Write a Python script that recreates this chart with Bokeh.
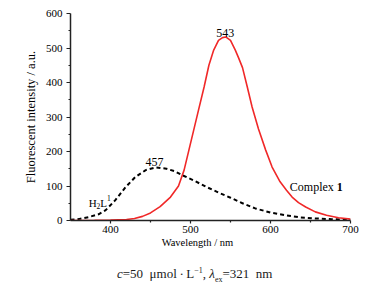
from bokeh.plotting import figure
from bokeh.models import Range1d, FixedTicker, Label, ColumnDataSource, Div
from bokeh.layouts import column
from bokeh.embed import file_html
from bokeh.resources import INLINE

# ---- data ----
complex1_wl = [350, 380, 400, 420, 430, 440, 450, 462, 475, 485, 492, 498, 504, 510, 517,
               523, 529, 535, 540, 544, 550, 556, 560, 565, 571, 577, 585, 594, 602, 612,
               620, 627, 635, 644, 656, 670, 685, 700]
complex1_int = [0, 0.5, 1, 3, 6, 12, 22, 40, 68, 100, 146, 204, 262, 320, 387,
                450, 494, 522, 530, 532, 522, 494, 472, 443, 387, 329, 265, 204, 155, 112,
                88, 68, 52, 39, 25, 15, 8, 4]

h2l1_wl = [350, 360, 373, 385, 394, 406, 419, 431, 444, 457, 470, 480, 490, 505, 520,
           535, 550, 565, 581, 600, 619, 637, 656, 675, 700]
h2l1_int = [2, 4, 10, 18, 30, 59, 97, 126, 146, 154, 150, 143, 131, 115, 97,
            81, 66, 50, 35, 23, 15, 9, 6, 4, 2]

x_major = [400, 500, 600, 700]
x_minor = [450, 550, 650]
y_major = [0, 100, 200, 300, 400, 500, 600]
y_minor = [50, 150, 250, 350, 450, 550]

X0, X1, Y0, Y1 = 350, 700, 0, 600
FL, FT, FW, FH = 70, 13, 280, 207
SERIF = "Liberation Serif"
AXFONT = "'Liberation Serif', 'Times New Roman', serif"

p = figure(frame_width=FW, frame_height=FH, min_border_left=FL, min_border_right=30,
           min_border_top=FT, min_border_bottom=35,
           x_range=Range1d(X0, X1), y_range=Range1d(Y0, Y1),
           output_backend="svg", toolbar_location=None,
           background_fill_color="white", border_fill_color="white")
p.outline_line_color = None
p.grid.visible = False

for axes in (p.xaxis, p.yaxis):
    axes.axis_line_color = "#222222"
    axes.axis_line_width = 1.5
    axes.major_tick_line_color = "#222222"
    axes.minor_tick_line_color = "#222222"
    axes.major_tick_line_width = 1.2
    axes.minor_tick_line_width = 1.2
    axes.major_tick_in = 0
    axes.minor_tick_in = 0
    axes.major_label_text_font = AXFONT
    axes.major_label_text_font_size = "11px"
    axes.major_label_text_color = "black"
    axes.axis_label_text_font = AXFONT
    axes.axis_label_text_font_style = "normal"
    axes.axis_label_text_color = "black"

p.xaxis.ticker = FixedTicker(ticks=x_major, minor_ticks=x_minor)
p.yaxis.ticker = FixedTicker(ticks=y_major, minor_ticks=y_minor)
p.xaxis.major_tick_out = 3
p.xaxis.minor_tick_out = 2
p.yaxis.major_tick_out = 4
p.yaxis.minor_tick_out = 2
p.xaxis.major_label_standoff = 2
p.yaxis.major_label_standoff = 4

p.xaxis.axis_label = "Wavelength / nm" + "\u00a0" * 10
p.xaxis.axis_label_text_font_size = "10.5px"
p.xaxis.axis_label_standoff = 1
p.yaxis.axis_label = "Fluorescent intensity / a.u."
p.yaxis.axis_label_text_font_size = "12.5px"
p.yaxis.axis_label_standoff = 5

src_c = ColumnDataSource(dict(x=complex1_wl, y=complex1_int))
src_h = ColumnDataSource(dict(x=h2l1_wl, y=h2l1_int))
p.line("x", "y", source=src_h, line_color="black", line_width=2, line_dash="4 3")
p.line("x", "y", source=src_c, line_color="#f02828", line_width=1.6)


def dx(px):
    return X0 + (px - FL) * (X1 - X0) / FW


def dy(py):
    return Y0 + (FT + FH - py) * (Y1 - Y0) / FH


def lab(px, py, text, size="12px", style="normal", align="left"):
    p.add_layout(Label(x=dx(px), y=dy(py), text=text, text_font=SERIF,
                       text_font_size=size, text_font_style=style, text_color="black",
                       text_align=align, text_baseline="alphabetic"))


# peak labels
lab(224.7, 32, "543", align="center")
lab(154, 161, "457", align="center")
# Complex 1
lab(289.3, 186.7, "Complex")
lab(336.3, 186.7, "1", style="bold")
# H2L1
lab(88.3, 202.7, "H", size="11px")
lab(96, 205.7, "2", size="7.5px")
lab(99.7, 202.7, "L", size="11px")
lab(106.5, 197.5, "1", size="7.5px")

caption = Div(
    text=('<div style="font-family:\'Liberation Serif\',\'Times New Roman\',serif;font-size:13px;'
          'line-height:13px;padding-left:117px;padding-top:9px;color:#1a1a1a;white-space:nowrap;">'
          '<i>c</i>=50&nbsp;&nbsp;\u03bcmol&thinsp;\u00b7&thinsp;L<sup style="font-size:8px;">\u22121</sup>, '
          '<i>\u03bb</i><sub style="font-size:8px;">ex</sub>=321&nbsp;&nbsp;nm</div>'),
    width=380, height=28, margin=(0, 0, 0, 0))

layout = column(p, caption, spacing=0, margin=(0, 0, 0, 0))

open("out.html", "w").write(file_html(layout, INLINE))
